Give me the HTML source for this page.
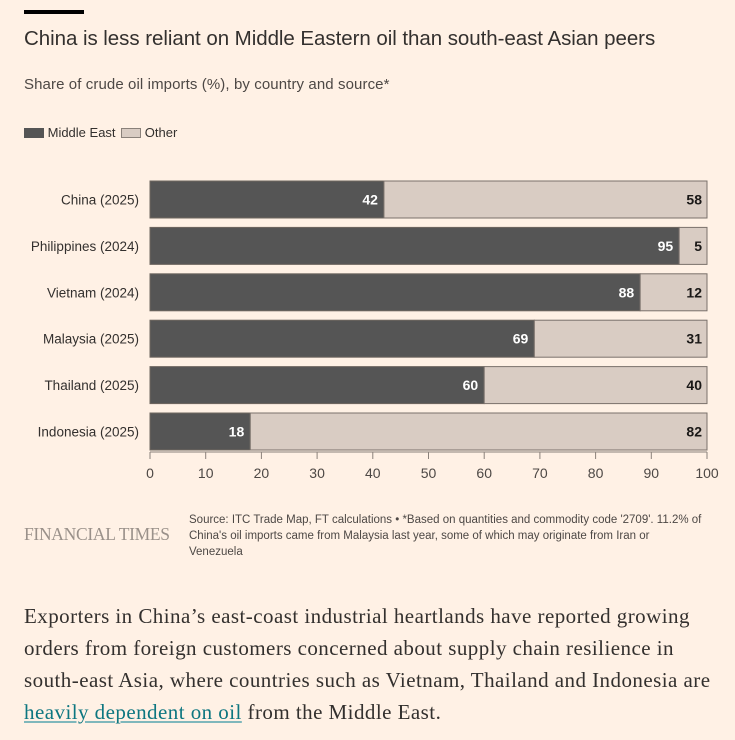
<!DOCTYPE html>
<html><head><meta charset="utf-8"><style>
body{margin:0;background:#fff1e5;width:735px;height:740px;overflow:hidden;font-family:"Liberation Sans",sans-serif;color:#33302e}
.abs{position:absolute;white-space:nowrap}
</style></head><body>
<div class="abs" style="left:24px;top:10px;width:60px;height:4px;background:#000"></div>
<div class="abs" style="left:24px;top:27px;font-size:20.5px;letter-spacing:-0.05px;color:#33302e">China is less reliant on Middle Eastern oil than south-east Asian peers</div>
<div class="abs" style="left:24px;top:76px;font-size:15px;letter-spacing:0.1px;color:#4d4845">Share of crude oil imports (%), by country and source*</div>
<div class="abs" style="left:24px;top:125px;font-size:13px;color:#33302e">
 <span><span style="display:inline-block;width:20px;height:10px;background:#555;vertical-align:-1px"></span> Middle East</span>
 <span style="margin-left:2px"><span style="display:inline-block;width:20px;height:10px;background:#d9ccc3;border:1px solid #8a817a;box-sizing:border-box;vertical-align:-1px"></span> Other</span>
</div>
<svg class="abs" style="left:0;top:0" width="735" height="500" id="chart"></svg>
<div class="abs" style="left:24px;top:524px;font-family:'Liberation Serif',serif;font-size:17.5px;color:#9a918a;letter-spacing:-0.3px">FINANCIAL TIMES</div>
<div class="abs" style="left:189px;top:512px;font-size:11.5px;line-height:16px;color:#4d4845">Source: ITC Trade Map, FT calculations • *Based on quantities and commodity code '2709'. 11.2% of<br>China's oil imports came from Malaysia last year, some of which may originate from Iran or<br>Venezuela</div>
<div class="abs" style="left:24px;top:600px;font-family:'Liberation Serif',serif;font-size:21px;line-height:32px;letter-spacing:0.45px;color:#33302e">Exporters in China’s east-coast industrial heartlands have reported growing<br>orders from foreign customers concerned about supply chain resilience in<br>south-east Asia, where countries such as Vietnam, Thailand and Indonesia are<br><a style="color:#0d7680;text-decoration:underline;text-decoration-color:#7fb7bb">heavily dependent on oil</a> from the Middle East.</div>
<script>
const categories=["China (2025)","Philippines (2024)","Vietnam (2024)","Malaysia (2025)","Thailand (2025)","Indonesia (2025)"];
const middleEast=[42,95,88,69,60,18];
const other=[58,5,12,31,40,82];
const ticks=[0,10,20,30,40,50,60,70,80,90,100];
const svg=document.getElementById('chart');
const NS='http://www.w3.org/2000/svg';
const x0=150,x1=707,top0=181,step=46.4,bh=37;
const xs=v=>x0+(x1-x0)*v/100;
function el(t,a,p){const e=document.createElementNS(NS,t);for(const k in a)e.setAttribute(k,a[k]);(p||svg).appendChild(e);return e;}
categories.forEach((c,i)=>{
 const y=top0+i*step;
 const lab=el('text',{x:139,y:y+bh/2+5,'text-anchor':'end','font-size':13.5,fill:'#33302e','font-family':'Liberation Sans, sans-serif'});
 
 
 lab.textContent=c;
 const m=middleEast[i],o=other[i];
 const r1=el('rect',{x:xs(0),y:y,width:xs(m)-xs(0),height:bh,fill:'#555555',stroke:'#6e6660','stroke-width':1});
 
 
 const r2=el('rect',{x:xs(m),y:y,width:xs(m+o)-xs(m),height:bh,fill:'#d9ccc3',stroke:'#7a716b','stroke-width':1});
 
 
 const t1=el('text',{x:xs(m)-6,y:y+bh/2+5,'text-anchor':'end','font-size':14,'font-weight':'bold',fill:'#fff','font-family':'Liberation Sans, sans-serif'});
 
 
 t1.textContent=m;
 const t2=el('text',{x:xs(m+o)-5,y:y+bh/2+5,'text-anchor':'end','font-size':14,'font-weight':'bold',fill:'#1a1817','font-family':'Liberation Sans, sans-serif'});
 
 
 t2.textContent=o;
});
const ax=el('line',{x1:x0,x2:x1,y1:452,y2:452,stroke:'#8a817a','stroke-width':1});


ticks.forEach(t=>{
 const tl=el('line',{x1:xs(t),x2:xs(t),y1:452,y2:459,stroke:'#8a817a','stroke-width':1});
 
 
 const tt=el('text',{x:xs(t),y:478,'text-anchor':'middle','font-size':14,fill:'#4d4845','font-family':'Liberation Sans, sans-serif'});
 
 
 tt.textContent=t;
});
</script>
</body></html>
